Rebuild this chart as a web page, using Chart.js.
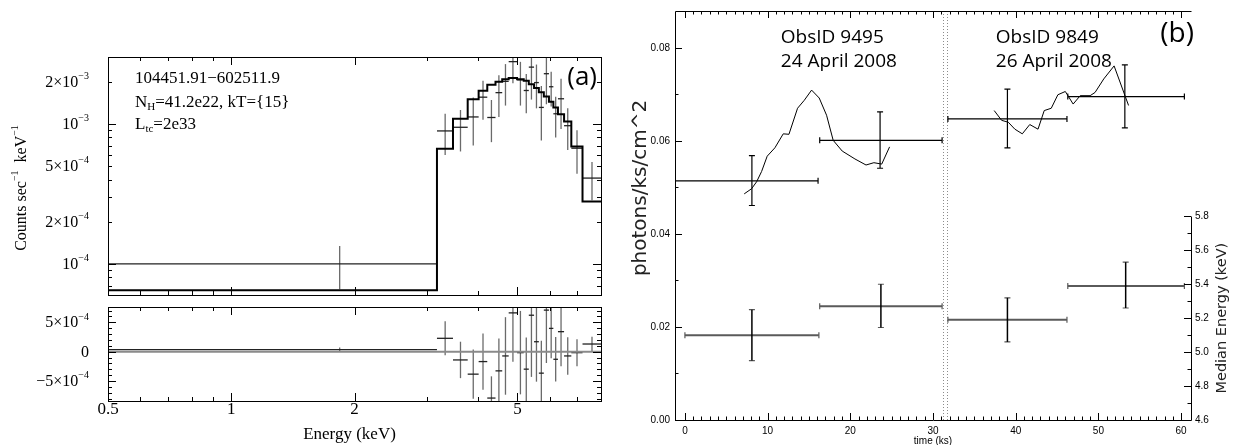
<!DOCTYPE html>
<html>
<head>
<meta charset="utf-8">
<script src="https://cdn.jsdelivr.net/npm/chart.js@4.4.1/dist/chart.umd.min.js"></script>
<style>
body { margin: 0; background: #fff; width: 1234px; height: 445px; overflow: hidden; position: relative; }
.panel { position: absolute; }
</style>
</head>
<body>
<div class="panel" style="left:0;top:0;width:605px;height:300px"><canvas id="spec"></canvas></div>
<div class="panel" style="left:0;top:300px;width:605px;height:145px"><canvas id="resid"></canvas></div>
<div class="panel" style="left:620px;top:0;width:614px;height:445px"><canvas id="light"></canvas></div>
<script>
// ---- panel (a): spectrum, energy bins in keV ----
const binLo = [0.5, 3.18, 3.48, 3.78, 4.02, 4.22, 4.42, 4.59, 4.76, 4.99, 5.18, 5.33, 5.49, 5.64, 5.80, 5.97, 6.12, 6.28, 6.50, 6.77, 7.21];
const binHi = [3.18, 3.48, 3.78, 4.02, 4.22, 4.42, 4.59, 4.76, 4.99, 5.18, 5.33, 5.49, 5.64, 5.80, 5.97, 6.12, 6.28, 6.50, 6.77, 7.21, 8.0];
const modelRate = [6.5e-5, 6.63e-4, 1.086e-3, 1.50e-3, 1.72e-3, 1.90e-3, 2.0e-3, 2.08e-3, 2.12e-3, 2.08e-3, 2.03e-3, 1.92e-3, 1.80e-3, 1.68e-3, 1.57e-3, 1.44e-3, 1.31e-3, 1.17e-3, 1.04e-3, 6.88e-4, 2.79e-4];
const dataRate = [1.0e-4, 8.9e-4, 9.45e-4, 1.12e-3, 1.55e-3, 1.11e-3, 1.67e-3, 2.01e-3, 2.78e-3, 2.06e-3, 1.73e-3, 2.54e-3, 1.97e-3, 1.31e-3, 2.28e-3, 1.84e-3, 1.18e-3, 1.51e-3, 9.7e-4, 6.7e-4, 4.1e-4];
const dataErr = [3.4e-5, 2.9e-4, 3.1e-4, 4.2e-4, 4.8e-4, 3.7e-4, 5.5e-4, 6.6e-4, 8.3e-4, 7.1e-4, 5.4e-4, 10.5e-4, 6.8e-4, 5.5e-4, 9.0e-4, 5.1e-4, 3.8e-4, 5.9e-4, 3.2e-4, 2.3e-4, 1.25e-4];
const residVal = [0.35e-4, 2.27e-4, -1.41e-4, -3.83e-4, -1.69e-4, -7.9e-4, -3.27e-4, -0.73e-4, 6.6e-4, -0.17e-4, -2.98e-4, 6.2e-4, 1.69e-4, -3.66e-4, 7.07e-4, 3.96e-4, -1.3e-4, 3.4e-4, -0.73e-4, -0.17e-4, 1.3e-4];

const energyTicks = [0.5, 1, 2, 5];
const energyLabels = ['0.5', '1', '2', '5'];
const energyMinor = [0.6, 0.7, 0.8, 0.9, 3, 4, 6, 7, 8];
const rateTicks = [1e-4, 2e-4, 5e-4, 1e-3, 2e-3];
const rateLabels = [['10', '−4'], ['2×10', '−4'], ['5×10', '−4'], ['10', '−3'], ['2×10', '−3']];
const rateMajor = [1e-4, 1e-3];
const rateMinor = [7e-5, 8e-5, 9e-5, 2e-4, 3e-4, 4e-4, 5e-4, 6e-4, 7e-4, 8e-4, 9e-4, 2e-3];
const residTicks = [-5e-4, 0, 5e-4];
const residLabels = [['−5×10', '−4'], ['0', ''], ['5×10', '−4']];
const residMinor = [-8e-4, -7e-4, -6e-4, -4e-4, -3e-4, -2e-4, -1e-4, 1e-4, 2e-4, 3e-4, 4e-4, 6e-4, 7e-4];

// ---- panel (b): light curve ----
const fluxTime = [8.1, 23.6, 39.0, 53.2];
const fluxBinStart = [-1.2, 16.3, 31.8, 46.3];
const fluxBinEnd = [16.1, 31.1, 46.2, 60.4];
const flux = [0.0514, 0.0601, 0.0647, 0.0695];
const fluxHi = [0.0568, 0.0662, 0.0711, 0.0763];
const fluxLo = [0.0461, 0.0541, 0.0585, 0.0628];

const medTime = [8.1, 23.7, 39.0, 53.3];
const medBinStart = [0, 16.3, 31.8, 46.3];
const medBinEnd = [16.2, 31.1, 46.2, 60.4];
const medEnergy = [5.10, 5.27, 5.19, 5.39];
const medEnergyHi = [5.25, 5.40, 5.32, 5.53];
const medEnergyLo = [4.95, 5.145, 5.06, 5.26];

const smoothT1 = [7.17, 8.06, 8.67, 9.27, 9.95, 10.88, 11.89, 12.58, 13.62, 14.43, 15.32, 16.24, 17.13, 17.93, 19.02, 20.56, 21.9, 22.85, 23.8, 24.75];
const smoothF1 = [0.0486, 0.0497, 0.0512, 0.0534, 0.0567, 0.0585, 0.0615, 0.0614, 0.0670, 0.0687, 0.0709, 0.0692, 0.0655, 0.0601, 0.0578, 0.0561, 0.0548, 0.0553, 0.0550, 0.0587];
const smoothT2 = [37.4, 38.3, 39.1, 39.9, 40.8, 41.7, 42.7, 43.45, 44.3, 45.1, 46.0, 46.95, 47.8, 49.0, 49.6, 50.65, 51.9, 53.65];
const smoothF2 = [0.0665, 0.0644, 0.0640, 0.0625, 0.0615, 0.0635, 0.0625, 0.0665, 0.0670, 0.0699, 0.0706, 0.0679, 0.0697, 0.0697, 0.0704, 0.0733, 0.0761, 0.0676];

const obsGap = [31.2, 31.75];
const timeTicks = [0, 10, 20, 30, 40, 50, 60];
const fluxTicks = [0, 0.02, 0.04, 0.06, 0.08];
const fluxMinor = [0.01, 0.03, 0.05, 0.07];
const medTicks = [4.6, 4.8, 5.0, 5.2, 5.4, 5.6, 5.8];
const medMinor = [4.7, 4.9, 5.1, 5.3, 5.5, 5.7];
const obsNotes = [
    { t: 11.6, lines: ['ObsID 9495', '24 April 2008'] },
    { t: 37.6, lines: ['ObsID 9849', '26 April 2008'] }
];

const SERIF = '"Liberation Serif", "Times New Roman", serif';
const SANS = '"Liberation Sans", Arial, sans-serif';
const MYRIAD = '"Open Sans", "Noto Sans", sans-serif';

// draw text with super/subscripts, parts = [[text, 'n'|'sup'|'sub'], ...]
function richText(ctx, parts, x, y, size, align, family) {
    const fam = family || SERIF;
    const fontFor = k => (k === 'n' ? size : Math.round(size * 0.62)) + 'px ' + fam;
    let w = 0;
    parts.forEach(([t, k]) => { ctx.font = fontFor(k); w += ctx.measureText(t).width; });
    let cx = align === 'right' ? x - w : align === 'center' ? x - w / 2 : x;
    ctx.textAlign = 'left';
    parts.forEach(([t, k]) => {
        ctx.font = fontFor(k);
        const dy = k === 'sup' ? -size * 0.4 : k === 'sub' ? size * 0.2 : 0;
        ctx.fillText(t, cx, y + dy);
        cx += ctx.measureText(t).width;
    });
}

// inward tick marks
function tickSet(ctx, scale, vals, len, side, a) {
    ctx.beginPath();
    vals.forEach(v => {
        const p = Math.round(scale.getPixelForValue(v)) + 0.5;
        if (side === 'bottom') { ctx.moveTo(p, a.bottom); ctx.lineTo(p, a.bottom - len); }
        else if (side === 'top') { ctx.moveTo(p, a.top); ctx.lineTo(p, a.top + len); }
        else if (side === 'left') { ctx.moveTo(a.left, p); ctx.lineTo(a.left + len, p); }
        else { ctx.moveTo(a.right, p); ctx.lineTo(a.right - len, p); }
    });
    ctx.stroke();
}

function frame(ctx, a) {
    ctx.strokeStyle = '#000';
    ctx.lineWidth = 1;
    ctx.strokeRect(Math.round(a.left) + 0.5, Math.round(a.top) + 0.5, Math.round(a.right - a.left), Math.round(a.bottom - a.top));
}

function clipArea(ctx, a) {
    ctx.beginPath();
    ctx.rect(a.left, a.top, a.right - a.left, a.bottom - a.top);
    ctx.clip();
}

// data crosses (bin width + error)
function drawCrosses(chart, values, floor) {
    const { ctx, chartArea: a, scales: { x, y } } = chart;
    ctx.save();
    clipArea(ctx, a);
    ctx.lineWidth = 1.3;
    binLo.forEach((lo, i) => {
        const v = values[i], e = dataErr[i];
        const yv = y.getPixelForValue(v);
        const xc = x.getPixelForValue((lo + binHi[i]) / 2);
        ctx.strokeStyle = '#6a6a6a';
        ctx.beginPath();
        ctx.moveTo(xc, y.getPixelForValue(v + e));
        ctx.lineTo(xc, y.getPixelForValue(floor === null ? v - e : Math.max(v - e, floor)));
        ctx.stroke();
        ctx.strokeStyle = '#222';
        ctx.beginPath();
        ctx.moveTo(x.getPixelForValue(lo), yv);
        ctx.lineTo(x.getPixelForValue(binHi[i]), yv);
        ctx.stroke();
    });
    ctx.restore();
}

const noAxis = { display: true, ticks: { display: false }, grid: { display: false }, border: { display: false } };

// ---------- spectrum ----------
const modelSteps = binLo.map((lo, i) => ({ x: lo, y: modelRate[i] }));
modelSteps.push({ x: binHi[binHi.length - 1], y: modelRate[modelRate.length - 1] });

const specDecor = {
    id: 'specDecor',
    beforeDatasetsDraw(chart) { drawCrosses(chart, dataRate, 1e-6); },
    afterDraw(chart) {
        const { ctx, chartArea: a, scales: { x, y } } = chart;
        ctx.save();
        frame(ctx, a);
        tickSet(ctx, x, energyTicks.slice(1), 8, 'bottom', a);
        tickSet(ctx, x, energyMinor, 4, 'bottom', a);
        tickSet(ctx, x, energyTicks.slice(1), 8, 'top', a);
        tickSet(ctx, x, energyMinor, 4, 'top', a);
        tickSet(ctx, y, rateMajor, 8, 'left', a);
        tickSet(ctx, y, rateMinor, 4, 'left', a);
        tickSet(ctx, y, rateMajor, 8, 'right', a);
        tickSet(ctx, y, rateMinor, 4, 'right', a);

        ctx.fillStyle = '#000';
        ctx.textBaseline = 'middle';
        rateTicks.forEach((v, i) => {
            const [base, sup] = rateLabels[i];
            richText(ctx, [[base, 'n'], [sup, 'sup']], a.left - 19, y.getPixelForValue(v) + 1, 16, 'right');
        });

        ctx.textBaseline = 'alphabetic';
        richText(ctx, [['104451.91−602511.9', 'n']], a.left + 27, a.top + 26, 17, 'left');
        richText(ctx, [['N', 'n'], ['H', 'sub'], ['=41.2e22, kT={15}', 'n']], a.left + 27, a.top + 50, 17, 'left');
        richText(ctx, [['L', 'n'], ['tc', 'sub'], ['=2e33', 'n']], a.left + 27, a.top + 72, 17, 'left');

        ctx.font = '26px ' + MYRIAD;
        ctx.textAlign = 'right';
        ctx.fillText('(a)', a.right - 4, a.top + 28);

        ctx.save();
        ctx.translate(22, 188);
        ctx.rotate(-Math.PI / 2);
        ctx.textBaseline = 'middle';
        richText(ctx, [['Counts sec', 'n'], ['−1', 'sup'], ['  keV', 'n'], ['−1', 'sup']], 0, 0, 16, 'center');
        ctx.restore();
        ctx.restore();
    }
};

new Chart(document.getElementById('spec'), {
    type: 'line',
    data: {
        datasets: [{
            data: modelSteps,
            stepped: true,
            borderColor: '#000',
            borderWidth: 2,
            pointRadius: 0,
            fill: false
        }]
    },
    options: {
        responsive: true,
        maintainAspectRatio: false,
        animation: false,
        events: [],
        layout: { padding: { top: 57, right: 4, bottom: 5, left: 0 } },
        plugins: { legend: { display: false }, tooltip: { enabled: false } },
        scales: {
            x: Object.assign({}, noAxis, { type: 'logarithmic', min: 0.5, max: 8, afterFit: s => { s.height = 0; } }),
            y: Object.assign({}, noAxis, { type: 'logarithmic', min: 6e-5, max: 3e-3, afterFit: s => { s.width = 108; } })
        }
    },
    plugins: [specDecor]
});

// ---------- residuals ----------
const residDecor = {
    id: 'residDecor',
    beforeDatasetsDraw(chart) { drawCrosses(chart, residVal, null); },
    afterDraw(chart) {
        const { ctx, chartArea: a, scales: { x, y } } = chart;
        ctx.save();
        frame(ctx, a);
        tickSet(ctx, x, energyTicks.slice(1), 8, 'bottom', a);
        tickSet(ctx, x, energyMinor, 4, 'bottom', a);
        tickSet(ctx, x, energyTicks.slice(1), 8, 'top', a);
        tickSet(ctx, x, energyMinor, 4, 'top', a);
        tickSet(ctx, y, residTicks, 8, 'left', a);
        tickSet(ctx, y, residMinor, 4, 'left', a);
        tickSet(ctx, y, residTicks, 8, 'right', a);
        tickSet(ctx, y, residMinor, 4, 'right', a);

        ctx.fillStyle = '#000';
        ctx.textBaseline = 'middle';
        residTicks.forEach((v, i) => {
            const [base, sup] = residLabels[i];
            richText(ctx, [[base, 'n'], [sup, 'sup']], a.left - 19, y.getPixelForValue(v) + 1, 16, 'right');
        });

        ctx.textBaseline = 'alphabetic';
        energyTicks.forEach((v, i) => {
            richText(ctx, [[energyLabels[i], 'n']], x.getPixelForValue(v), a.bottom + 13, 17, 'center');
        });
        richText(ctx, [['Energy (keV)', 'n']], (a.left + a.right) / 2 - 5, a.bottom + 38, 17, 'center');

        ctx.save();
        ctx.translate(23, 362);
        ctx.rotate(-Math.PI / 2);
        ctx.textBaseline = 'middle';
        richText(ctx, [['residuals', 'n']], 0, 0, 16, 'center');
        ctx.restore();
        ctx.restore();
    }
};

new Chart(document.getElementById('resid'), {
    type: 'line',
    data: {
        datasets: [{
            data: [{ x: 0.5, y: 0 }, { x: 8, y: 0 }],
            borderColor: '#8a8a8a',
            borderWidth: 2,
            pointRadius: 0
        }]
    },
    options: {
        responsive: true,
        maintainAspectRatio: false,
        animation: false,
        events: [],
        layout: { padding: { top: 7, right: 4, bottom: 0, left: 0 } },
        plugins: { legend: { display: false }, tooltip: { enabled: false } },
        scales: {
            x: Object.assign({}, noAxis, { type: 'logarithmic', min: 0.5, max: 8, afterFit: s => { s.height = 44; } }),
            y: Object.assign({}, noAxis, { type: 'linear', min: -8.4e-4, max: 7.6e-4, afterFit: s => { s.width = 108; } })
        }
    },
    plugins: [residDecor]
});

// ---------- light curve ----------
function barPixels(xs, ys, x0, x1, xc, yc, y0, y1) {
    return {
        px0: xs.getPixelForValue(x0), px1: xs.getPixelForValue(x1), pxc: xs.getPixelForValue(xc),
        py: ys.getPixelForValue(yc), py0: ys.getPixelForValue(y0), py1: ys.getPixelForValue(y1)
    };
}

const lightDecor = {
    id: 'lightDecor',
    beforeDatasetsDraw(chart) {
        const { ctx, chartArea: a, scales: { x } } = chart;
        ctx.save();
        ctx.strokeStyle = '#8c8c8c';
        ctx.lineWidth = 1;
        ctx.setLineDash([1, 2]);
        obsGap.forEach(t => {
            const p = Math.round(x.getPixelForValue(t)) + 0.5;
            ctx.beginPath();
            ctx.moveTo(p, a.top);
            ctx.lineTo(p, a.bottom);
            ctx.stroke();
        });
        ctx.restore();
    },
    afterDatasetsDraw(chart) {
        const { ctx, chartArea: a, scales: { x, y, y2 } } = chart;
        ctx.save();
        clipArea(ctx, a);
        // flux bins
        ctx.strokeStyle = '#000';
        ctx.lineWidth = 1.2;
        flux.forEach((f, i) => {
            const b = barPixels(x, y, fluxBinStart[i], fluxBinEnd[i], fluxTime[i], f, fluxLo[i], fluxHi[i]);
            ctx.beginPath();
            ctx.moveTo(b.px0, b.py); ctx.lineTo(b.px1, b.py);
            ctx.moveTo(b.px0, b.py - 3); ctx.lineTo(b.px0, b.py + 3);
            ctx.moveTo(b.px1, b.py - 3); ctx.lineTo(b.px1, b.py + 3);
            ctx.moveTo(b.pxc, b.py0); ctx.lineTo(b.pxc, b.py1);
            ctx.moveTo(b.pxc - 3, b.py0); ctx.lineTo(b.pxc + 3, b.py0);
            ctx.moveTo(b.pxc - 3, b.py1); ctx.lineTo(b.pxc + 3, b.py1);
            ctx.stroke();
        });
        // median energy bins
        medEnergy.forEach((m, i) => {
            const b = barPixels(x, y2, medBinStart[i], medBinEnd[i], medTime[i], m, medEnergyLo[i], medEnergyHi[i]);
            ctx.strokeStyle = '#5a5a5a';
            ctx.lineWidth = 2;
            ctx.beginPath();
            ctx.moveTo(b.px0, b.py); ctx.lineTo(b.px1, b.py);
            ctx.stroke();
            ctx.lineWidth = 1.2;
            ctx.beginPath();
            ctx.moveTo(b.px0, b.py - 3); ctx.lineTo(b.px0, b.py + 3);
            ctx.moveTo(b.px1, b.py - 3); ctx.lineTo(b.px1, b.py + 3);
            ctx.moveTo(b.pxc - 3, b.py0); ctx.lineTo(b.pxc + 3, b.py0);
            ctx.moveTo(b.pxc - 3, b.py1); ctx.lineTo(b.pxc + 3, b.py1);
            ctx.stroke();
            ctx.strokeStyle = '#000';
            ctx.lineWidth = 1.5;
            ctx.beginPath();
            ctx.moveTo(b.pxc, b.py0); ctx.lineTo(b.pxc, b.py1);
            ctx.stroke();
        });
        ctx.restore();

        // axes: bottom, left, top and the partial right axis
        ctx.save();
        ctx.strokeStyle = '#000';
        ctx.lineWidth = 1;
        const L = Math.round(a.left) + 0.5, R = Math.round(a.right) + 0.5;
        const T = Math.round(a.top) + 0.5, B = Math.round(a.bottom) + 0.5;
        ctx.beginPath();
        ctx.moveTo(L, T); ctx.lineTo(L, B); ctx.lineTo(R, B);
        ctx.moveTo(L, T); ctx.lineTo(R, T);
        ctx.moveTo(R, B); ctx.lineTo(R, Math.round(y2.getPixelForValue(medTicks[medTicks.length - 1])) + 0.5);
        ctx.stroke();
        const tMinor = [];
        for (let t = 1; t < 61; t++) if (t % 10) tMinor.push(t);
        tickSet(ctx, x, timeTicks, 7, 'bottom', a);
        tickSet(ctx, x, tMinor, 3.5, 'bottom', a);
        tickSet(ctx, x, timeTicks, 7, 'top', a);
        tickSet(ctx, x, tMinor, 3.5, 'top', a);
        tickSet(ctx, y, fluxTicks, 7, 'left', a);
        tickSet(ctx, y, fluxMinor, 3.5, 'left', a);
        tickSet(ctx, y2, medTicks, 7, 'right', a);
        tickSet(ctx, y2, medMinor, 3.5, 'right', a);

        // annotations
        ctx.fillStyle = '#000';
        ctx.textAlign = 'left';
        ctx.textBaseline = 'alphabetic';
        ctx.font = '19px ' + MYRIAD;
        obsNotes.forEach(n => {
            const px = x.getPixelForValue(n.t);
            ctx.fillText(n.lines[0], px, a.top + 32);
            ctx.fillText(n.lines[1], px, a.top + 56);
        });
        ctx.font = '28px ' + MYRIAD;
        ctx.textAlign = 'right';
        ctx.fillText('(b)', a.right + 3, a.top + 31);

        // axis titles
        ctx.textAlign = 'center';
        ctx.textBaseline = 'middle';
        ctx.font = '10px ' + SANS;
        ctx.fillText('time (ks)', (a.left + a.right) / 2, a.bottom + 21);

        ctx.save();
        ctx.translate(a.left - 34, 188);
        ctx.rotate(-Math.PI / 2);
        ctx.font = '20px "DejaVu Sans", sans-serif';
        ctx.fillStyle = '#222';
        ctx.fillText('photons/ks/cm^2', 0, 0);
        ctx.restore();

        ctx.save();
        ctx.translate(a.right + 31, y2.getPixelForValue(5.2));
        ctx.rotate(-Math.PI / 2);
        ctx.font = '14.5px "DejaVu Sans", sans-serif';
        ctx.fillStyle = '#222';
        ctx.fillText('Median Energy (keV)', 0, 0);
        ctx.restore();
        ctx.restore();
    }
};

const tickFont = { family: SANS, size: 10 };

new Chart(document.getElementById('light'), {
    type: 'line',
    data: {
        datasets: [
            {
                data: smoothT1.map((t, i) => ({ x: t, y: smoothF1[i] })),
                borderColor: '#000', borderWidth: 1, pointRadius: 0, tension: 0, yAxisID: 'y'
            },
            {
                data: smoothT2.map((t, i) => ({ x: t, y: smoothF2[i] })),
                borderColor: '#000', borderWidth: 1, pointRadius: 0, tension: 0, yAxisID: 'y'
            }
        ]
    },
    options: {
        responsive: true,
        maintainAspectRatio: false,
        animation: false,
        events: [],
        layout: { padding: { top: 8, right: 0, bottom: 0, left: 0 } },
        plugins: { legend: { display: false }, tooltip: { enabled: false } },
        scales: {
            x: {
                type: 'linear', min: -1.2, max: 61.2,
                afterBuildTicks: s => { s.ticks = timeTicks.map(v => ({ value: v })); },
                ticks: { font: tickFont, color: '#000', padding: 5, maxRotation: 0, callback: v => String(v) },
                grid: { display: false, drawTicks: false },
                border: { display: false },
                afterFit: s => { s.height = 25; }
            },
            y: {
                type: 'linear', position: 'left', min: 0, max: 0.0879,
                afterBuildTicks: s => { s.ticks = fluxTicks.map(v => ({ value: v })); },
                ticks: { font: tickFont, color: '#000', padding: 5, callback: v => v.toFixed(2) },
                grid: { display: false, drawTicks: false },
                border: { display: false },
                afterFit: s => { s.width = 55; }
            },
            y2: {
                type: 'linear', position: 'right', min: 4.6, max: 7.01,
                afterBuildTicks: s => { s.ticks = medTicks.map(v => ({ value: v })); },
                ticks: { font: tickFont, color: '#000', padding: 4, callback: v => v.toFixed(1) },
                grid: { display: false, drawTicks: false },
                border: { display: false },
                afterFit: s => { s.width = 43; }
            }
        }
    },
    plugins: [lightDecor]
});
</script>
</body>
</html>
